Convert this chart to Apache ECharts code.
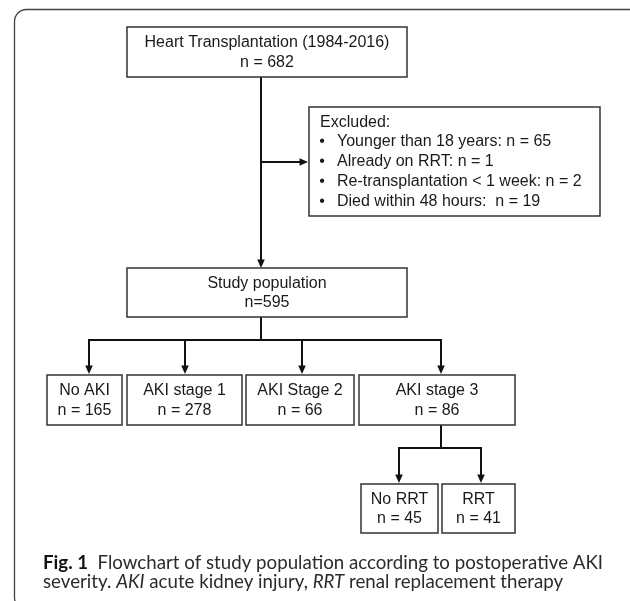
<!DOCTYPE html>
<html>
<head>
<meta charset="utf-8">
<script src="https://cdn.jsdelivr.net/npm/echarts@6/dist/echarts.min.js"></script>
<style>
  html, body { margin: 0; padding: 0; background: #fff; }
  #chart { width: 630px; height: 601px; }
</style>
</head>
<body>
<div id="chart"></div>
<script>
// ---- flowchart content ----
var nodeTitles = ['Heart Transplantation (1984-2016)', 'Study population', 'No AKI', 'AKI stage 1',
                  'AKI Stage 2', 'AKI stage 3', 'No RRT', 'RRT'];
var nodeCounts = [682, 595, 165, 278, 66, 86, 45, 41];
var nodeParents = [null, 0, 1, 1, 1, 1, 5, 5];

var excludedTitle = 'Excluded:';
var excludedReasons = ['Younger than 18 years', 'Already on RRT', 'Re-transplantation < 1 week', 'Died within 48 hours'];
var excludedCounts = [65, 1, 2, 19];

var captionLine1 = '{b|Fig. 1}  Flowchart of study population according to postoperative AKI';
var captionLine2 = 'severity. {i|AKI} acute kidney injury, {i|RRT} renal replacement therapy';

// ---- layout (axis units) ----
// [x, y, width, height] per node
var boxLayout = [
    [127, 27, 280, 50],
    [127, 268, 280, 49],
    [47, 375, 75, 50],
    [127, 375, 115, 50],
    [246, 375, 108, 50],
    [359, 375, 156, 50],
    [361, 484, 77, 49],
    [442, 484, 73, 49]
];
var dropX = [null, 261, 89, 185, 302, 441, 399, 481];   // where arrows enter each child
var stemX = {0: 261, 1: 261, 5: 441};                    // where lines leave each parent
var busY = {1: 340, 5: 448};
var excludedBox = [309, 107, 291, 109];
var excludedArrowY = 162;

var FONT = '16px "Liberation Sans", Arial, sans-serif';
var CAP = '18.7px Lato, sans-serif';
var LINE = '#111';

function countLabel(i) {
    return i === 1 ? 'n=' + nodeCounts[i] : 'n = ' + nodeCounts[i];
}

function arrowDown(x, y) {
    return {type: 'polygon', shape: {points: [[x - 3.8, y - 8.5], [x + 3.8, y - 8.5], [x, y]]},
            style: {fill: LINE}};
}
function arrowRight(x, y) {
    return {type: 'polygon', shape: {points: [[x - 8.5, y - 3.8], [x - 8.5, y + 3.8], [x, y]]},
            style: {fill: LINE}};
}
function seg(a, b) {
    return {type: 'line', shape: {x1: a[0], y1: a[1], x2: b[0], y2: b[1]},
            style: {stroke: LINE, lineWidth: 2}};
}

function renderBox(params, api) {
    var i = api.value(0);
    var b = boxLayout[i];
    var p0 = api.coord([b[0], b[1]]);
    var p1 = api.coord([b[0] + b[2], b[1] + b[3]]);
    return {
        type: 'group',
        children: [
            {type: 'rect', shape: {x: p0[0], y: p0[1], width: p1[0] - p0[0], height: p1[1] - p0[1]},
             style: {fill: '#fff', stroke: '#333', lineWidth: 1.5}},
            {type: 'text', x: (p0[0] + p1[0]) / 2, y: (p0[1] + p1[1]) / 2 + 0.5,
             style: {text: nodeTitles[i] + '\n' + countLabel(i), font: FONT, fill: '#1a1a1a',
                     align: 'center', verticalAlign: 'middle', lineHeight: 19.5}}
        ]
    };
}

function renderLinks(params, api) {
    var p = api.value(0);
    var pb = boxLayout[p];
    var kids = [];
    nodeParents.forEach(function(par, k) { if (par === p) kids.push(k); });
    var out = [];
    var top = api.coord([stemX[p], pb[1] + pb[3]]);
    if (kids.length === 1) {
        var cb = boxLayout[kids[0]];
        var end = api.coord([stemX[p], cb[1]]);
        out.push(seg(top, [end[0], end[1] - 6]));
        out.push(arrowDown(end[0], end[1]));
    } else {
        var xs = kids.map(function(k) { return dropX[k]; });
        var bus = api.coord([stemX[p], busY[p]]);
        out.push(seg(top, bus));
        var l = api.coord([Math.min.apply(null, xs), busY[p]]);
        var r = api.coord([Math.max.apply(null, xs), busY[p]]);
        out.push(seg([l[0] - 1, l[1]], [r[0] + 1, r[1]]));
        kids.forEach(function(k) {
            var s = api.coord([dropX[k], busY[p]]);
            var e = api.coord([dropX[k], boxLayout[k][1] - 1]);
            out.push(seg(s, [e[0], e[1] - 6]));
            out.push(arrowDown(e[0], e[1]));
        });
    }
    return {type: 'group', children: out};
}

function renderExcluded(params, api) {
    var b = excludedBox;
    var p0 = api.coord([b[0], b[1]]);
    var p1 = api.coord([b[0] + b[2], b[1] + b[3]]);
    var s = api.coord([stemX[0], excludedArrowY]);
    var out = [
        seg(s, [p0[0] - 6, s[1]]),
        arrowRight(p0[0] - 1, s[1]),
        {type: 'rect', shape: {x: p0[0], y: p0[1], width: p1[0] - p0[0], height: p1[1] - p0[1]},
         style: {fill: '#fff', stroke: '#333', lineWidth: 1.5}},
        {type: 'text', x: p0[0] + 11, y: p0[1] + 16,
         style: {text: excludedTitle, font: FONT, fill: '#1a1a1a', verticalAlign: 'middle'}}
    ];
    excludedReasons.forEach(function(reason, k) {
        var y = p0[1] + 35 + k * 19.7;
        var gap = k === 3 ? ':  n = ' : ': n = ';
        out.push({type: 'text', x: p0[0] + 13, y: y,
                  style: {text: '\u2022', font: FONT, fill: '#1a1a1a', align: 'center', verticalAlign: 'middle'}});
        out.push({type: 'text', x: p0[0] + 28, y: y,
                  style: {text: reason + gap + excludedCounts[k], font: FONT, fill: '#1a1a1a', verticalAlign: 'middle'}});
    });
    return {type: 'group', children: out};
}

var chart = echarts.init(document.getElementById('chart'), null, {renderer: 'canvas'});

var parentsWithKids = [0, 1, 5];

chart.setOption({
    animation: false,
    backgroundColor: '#fff',
    grid: {left: 0, right: 0, top: 0, bottom: 0},
    xAxis: {type: 'value', min: 0, max: 630, show: false},
    yAxis: {type: 'value', min: 0, max: 601, inverse: true, show: false},
    graphic: [
        {type: 'rect', left: 12, top: 7, z: -10,
         shape: {width: 640, height: 600, r: 12},
         style: {fill: 'none', stroke: '#444', lineWidth: 1.3}},
        {type: 'text', x: 43, y: 563,
         style: {text: captionLine1, font: CAP, fill: '#2b2b2b', verticalAlign: 'middle',
                 rich: {b: {font: 'bold ' + CAP, fill: '#111'}}}},
        {type: 'text', x: 43, y: 582,
         style: {text: captionLine2, font: CAP, fill: '#2b2b2b', verticalAlign: 'middle',
                 rich: {i: {font: 'italic ' + CAP, fill: '#2b2b2b'}}}}
    ],
    series: [
        {type: 'custom', name: 'links', coordinateSystem: 'cartesian2d', silent: true,
         renderItem: renderLinks, data: parentsWithKids.map(function(p) { return [p]; }), z: 1},
        {type: 'custom', name: 'excluded', coordinateSystem: 'cartesian2d', silent: true,
         renderItem: renderExcluded, data: [[0]], z: 2},
        {type: 'custom', name: 'boxes', coordinateSystem: 'cartesian2d', silent: true,
         renderItem: renderBox, data: nodeTitles.map(function(t, i) { return [i]; }), z: 3}
    ]
});

window.addEventListener('resize', function() { chart.resize(); });
</script>
</body>
</html>
